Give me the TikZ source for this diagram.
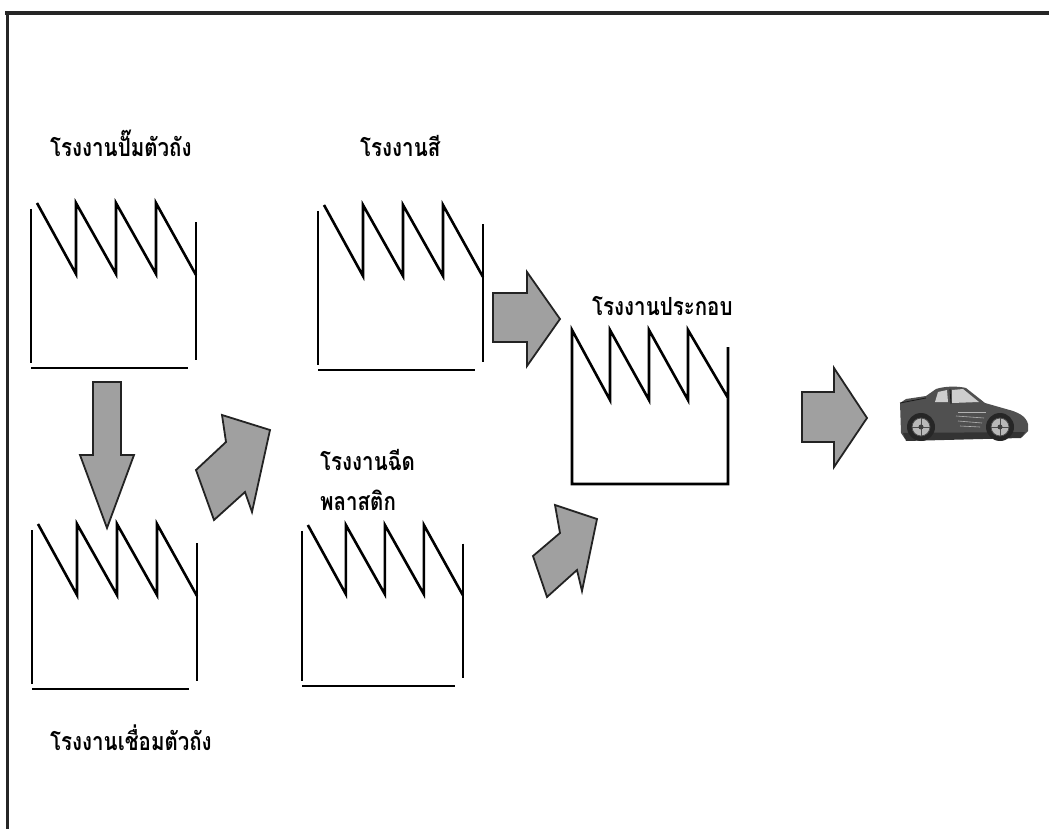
\documentclass[tikz,border=0pt]{standalone}
\usepackage{fontspec}
\newfontfamily\thaifont[Script=Thai, FakeStretch=0.82]{Loma}
\definecolor{arrowgray}{RGB}{160,160,160}
\definecolor{edgegray}{RGB}{35,35,35}
\definecolor{cardark}{RGB}{80,80,80}
\definecolor{carglass}{RGB}{205,205,205}
\begin{document}
\begin{tikzpicture}[x=1pt,y=-1pt,
  wall/.style={line width=2.6pt, line join=miter},
  blockarrow/.style={draw=edgegray, line width=1.8pt, fill=arrowgray, line join=miter},
  label/.style={anchor=base west, inner sep=0pt, font=\thaifont\bfseries\fontsize{25}{28}\selectfont},
  factory/.pic={
    \draw[wall] (0,6) -- (0,160);
    \draw[wall] (6,0) -- (45,71) -- (45,0) -- (85,71) -- (85,0) -- (125,71) -- (125,0) -- (165,72);
    \draw[wall] (165,19) -- (165,157);
    \draw[wall] (0,165) -- (157,165);
  },
  closedfactory/.pic={
    \draw[wall] (156,17) -- (156,154) -- (0,154) -- (0,0) -- (38,70) -- (38,0) -- (77,70) -- (77,0)
      -- (116,70) -- (116,0) -- (156,68);
  }]
\useasboundingbox (0,0) rectangle (1049,829);

% frame
\draw[line width=3.5pt, black!85] (5,13) -- (1049,13);
\draw[line width=3pt, black!85] (7,12) -- (7,829);

% factories
\pic (stamp) at (31,203) {factory};
\pic (weld) at (32,524) {factory};
\pic (paint) at (318,205) {factory};
\pic[scale=0.975] (plastic) at (302,525) {factory};
\pic (assembly) at (572,330) {closedfactory};

% labels
\node[label] (lstamp) at (50,157) {โรงงานปั๊มตัวถัง};
\node[label] (lpaint) at (360,157) {โรงงานสี};
\node[label] (lassembly) at (592,315) {โรงงานประกอบ};
\node[label] (lplastic1) at (320,470) {โรงงานฉีด};
\node[label] (lplastic2) at (320,510) {พลาสติก};
\node[label] (lweld) at (50,750) {โรงงานเชื่อมตัวถัง};

% flow arrows
\filldraw[blockarrow] (93,382) -- (121,382) -- (121,455) -- (134,455) -- (107,528) -- (80,455) -- (93,455) -- cycle;
\filldraw[blockarrow] (196,470) -- (226,442) -- (222,415) -- (270,430) -- (252,512) -- (245,492) -- (214,520) -- cycle;
\filldraw[blockarrow] (493,293) -- (527,293) -- (527,272) -- (560,319) -- (527,366) -- (527,342) -- (493,342) -- cycle;
\filldraw[blockarrow] (533,556) -- (560,533) -- (555,505) -- (597,519) -- (582,591) -- (577,570) -- (547,597) -- cycle;
\filldraw[blockarrow] (802,392) -- (834,392) -- (834,368) -- (867,418) -- (834,467) -- (834,442) -- (802,442) -- cycle;

% finished car
\begin{scope}
  \fill[cardark] (900,403) -- (906,399) -- (926,396) -- (936,389)
    .. controls (945,386) and (958,386) .. (966,388) -- (985,403) -- (1006,409)
    .. controls (1018,412) and (1026,416) .. (1028,424) -- (1028,431) -- (1022,437)
    -- (905,439) -- (901,433) -- cycle;
  \fill[black!80] (903,433) -- (1025,432) -- (1021,438) -- (906,441) -- cycle;
  \fill[carglass] (938,392) -- (947,390) -- (948,402) -- (935,402) -- cycle;
  \fill[carglass] (952,390) -- (963,389) -- (979,402) -- (952,403) -- cycle;
  \draw[black!90, line width=0.8pt] (950,389) -- (951,404);
  \draw[black!90, line width=0.8pt] (900,403) -- (926,398);
  \draw[gray!60, line width=0.6pt] (958,412) -- (986,412);
  \draw[gray!60, line width=0.6pt] (956,416) -- (984,418);
  \draw[gray!60, line width=0.6pt] (958,421) -- (982,423);
  \draw[gray!60, line width=0.6pt] (960,426) -- (980,427);
  \foreach \cx in {921,1000} {
    \fill[black!85] (\cx,427) circle (14);
    \fill[gray!55] (\cx,427) circle (9);
    \draw[black!70, line width=0.8pt] (\cx,427) circle (9);
    \draw[black!70, line width=0.6pt] (\cx-9,427) -- (\cx+9,427) (\cx,418) -- (\cx,436);
    \fill[black!75] (\cx,427) circle (2.5);
  }
\end{scope}
\end{tikzpicture}
\end{document}
